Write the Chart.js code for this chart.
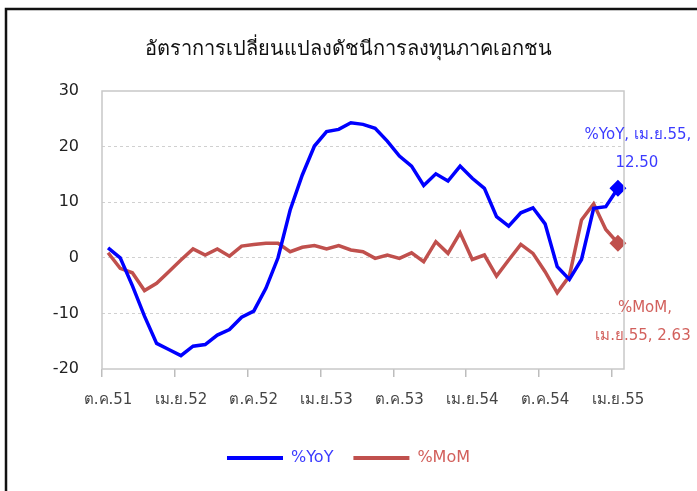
<!DOCTYPE html>
<html>
<head>
<meta charset="utf-8">
<script src="https://cdn.jsdelivr.net/npm/chart.js@4.4.1/dist/chart.umd.min.js"></script>
<style>
  body { margin: 0; background: #fff; }
  #wrap { width: 697px; height: 491px; }
</style>
</head>
<body>
<div id="wrap"><canvas id="myChart" width="697" height="491"></canvas></div>
<script>
// monthly, ต.ค.51 .. เม.ย.55
const labels = [
    'ต.ค.51', 'พ.ย.51', 'ธ.ค.51', 'ม.ค.52', 'ก.พ.52', 'มี.ค.52',
    'เม.ย.52', 'พ.ค.52', 'มิ.ย.52', 'ก.ค.52', 'ส.ค.52', 'ก.ย.52',
    'ต.ค.52', 'พ.ย.52', 'ธ.ค.52', 'ม.ค.53', 'ก.พ.53', 'มี.ค.53',
    'เม.ย.53', 'พ.ค.53', 'มิ.ย.53', 'ก.ค.53', 'ส.ค.53', 'ก.ย.53',
    'ต.ค.53', 'พ.ย.53', 'ธ.ค.53', 'ม.ค.54', 'ก.พ.54', 'มี.ค.54',
    'เม.ย.54', 'พ.ค.54', 'มิ.ย.54', 'ก.ค.54', 'ส.ค.54', 'ก.ย.54',
    'ต.ค.54', 'พ.ย.54', 'ธ.ค.54', 'ม.ค.55', 'ก.พ.55', 'มี.ค.55',
    'เม.ย.55'
];
const yoy = [
    1.8, 0.0, -5.0, -10.5, -15.4, -16.5,
    -17.6, -15.9, -15.6, -13.9, -12.9, -10.7,
    -9.6, -5.5, 0.0, 8.6, 14.9, 20.1,
    22.7, 23.1, 24.3, 24.0, 23.3, 21.0,
    18.3, 16.5, 13.0, 15.1, 13.8, 16.5,
    14.3, 12.5, 7.4, 5.7, 8.1, 9.0,
    6.1, -1.6, -3.9, -0.3, 8.9, 9.2,
    12.50
];
const mom = [
    0.9, -1.9, -2.7, -5.9, -4.6, -2.5,
    -0.4, 1.6, 0.5, 1.6, 0.3, 2.1,
    2.4, 2.6, 2.6, 1.1, 1.9, 2.2,
    1.6, 2.2, 1.4, 1.1, -0.1, 0.5,
    -0.1, 0.9, -0.7, 2.9, 0.8, 4.5,
    -0.3, 0.5, -3.3, -0.4, 2.4, 0.8,
    -2.5, -6.3, -3.3, 6.8, 9.7, 5.1,
    2.63
];
const yTicks = [-20, -10, 0, 10, 20, 30];

const FONT = '"DejaVu Sans", Tahoma, "Noto Sans", sans-serif';
const last = labels.length - 1;

const framePlugin = {
    id: 'frame',
    beforeDraw(chart) {
        const c = chart.ctx;
        c.save();
        c.fillStyle = '#fff';
        c.fillRect(0, 0, chart.width, chart.height);
        c.restore();
    },
    afterDatasetsDraw(chart) {
        const c = chart.ctx;
        const a = chart.chartArea;
        c.save();
        c.strokeStyle = '#c8c8c8';
        c.lineWidth = 1.5;
        c.strokeRect(a.left, a.top, a.right - a.left, a.bottom - a.top);
        c.restore();
    },
    afterDraw(chart) {
        const c = chart.ctx;
        c.save();
        // outer black frame (top and left)
        c.strokeStyle = '#111';
        c.lineWidth = 2.5;
        c.beginPath();
        c.moveTo(6, 491);
        c.lineTo(6, 9);
        c.lineTo(697, 9);
        c.stroke();

        // end labels
        c.font = '15px ' + FONT;
        c.textAlign = 'center';
        c.textBaseline = 'middle';
        const p1 = chart.getDatasetMeta(0).data[last];
        c.fillStyle = '#3b3bff';
        c.fillText('%YoY, เม.ย.55,', p1.x + 20, p1.y - 53);
        c.fillText(yoy[last].toFixed(2), p1.x + 19, p1.y - 25);
        const p2 = chart.getDatasetMeta(1).data[last];
        c.fillStyle = '#d2605c';
        c.fillText('%MoM,', p2.x + 27, p2.y + 65);
        c.fillText('เม.ย.55, ' + mom[last].toFixed(2), p2.x + 25, p2.y + 93);
        c.restore();
    }
};

new Chart(document.getElementById('myChart'), {
    type: 'line',
    data: {
        labels: labels,
        datasets: [{
            label: '%YoY',
            data: yoy,
            borderColor: '#0000ff',
            backgroundColor: '#0000ff',
            borderWidth: 3.5,
            pointStyle: 'rectRot',
            pointRadius: ctx => ctx.dataIndex === last ? 6 : 0,
            tension: 0
        }, {
            label: '%MoM',
            data: mom,
            borderColor: '#c0504d',
            backgroundColor: '#c0504d',
            borderWidth: 3.5,
            pointStyle: 'rectRot',
            pointRadius: ctx => ctx.dataIndex === last ? 6 : 0,
            tension: 0
        }]
    },
    options: {
        responsive: false,
        animation: false,
        layout: {
            padding: {left: 0, right: 0, top: 0, bottom: 15}
        },
        plugins: {
            title: {
                display: true,
                text: 'อัตราการเปลี่ยนแปลงดัชนีการลงทุนภาคเอกชน',
                color: '#111',
                font: {size: 20, family: FONT, weight: 'normal'},
                padding: {top: 38, bottom: 29}
            },
            legend: {
                position: 'bottom',
                labels: {
                    boxWidth: 56,
                    boxHeight: 4,
                    padding: 20,
                    font: {size: 16, family: FONT},
                    generateLabels(chart) {
                        const items = Chart.defaults.plugins.legend.labels.generateLabels(chart);
                        items.forEach(it => {
                            it.fontColor = it.datasetIndex === 0 ? '#3b3bff' : '#d2605c';
                            it.lineWidth = 0;
                            it.pointStyle = undefined;
                        });
                        return items;
                    }
                }
            },
            tooltip: {enabled: false}
        },
        scales: {
            x: {
                offset: true,
                border: {display: false},
                grid: {
                    offset: true,
                    drawOnChartArea: false,
                    tickLength: 8,
                    lineWidth: 1.5,
                    color: ctx => (ctx.index % 6 === 0) ? '#bdbdbd' : 'rgba(0,0,0,0)'
                },
                ticks: {
                    autoSkip: false,
                    maxRotation: 0,
                    padding: 14,
                    color: '#444',
                    font: {size: 15, family: FONT},
                    callback: (v, i) => i % 6 === 0 ? labels[i] : ''
                },
                afterFit(scale) { scale.height = 61; }
            },
            y: {
                min: -20,
                max: 30,
                afterBuildTicks(scale) {
                    scale.ticks = yTicks.map(v => ({value: v}));
                },
                grid: {
                    drawTicks: false,
                    color: ctx => (ctx.tick && (ctx.tick.value === 30 || ctx.tick.value === -20)) ? 'rgba(0,0,0,0)' : '#d0d0d0',
                    lineWidth: 1
                },
                border: {display: false, dash: [3, 3]},
                ticks: {
                    padding: 23,
                    color: '#222',
                    font: {size: 16, family: FONT}
                },
                afterFit(scale) { scale.width = 102; }
            },
            // empty right axis, only keeps room for the end labels
            yRight: {
                position: 'right',
                min: 0,
                max: 1,
                grid: {display: false},
                border: {display: false},
                ticks: {display: false},
                afterFit(scale) { scale.width = 73; }
            }
        }
    },
    plugins: [framePlugin]
});
</script>
</body>
</html>
